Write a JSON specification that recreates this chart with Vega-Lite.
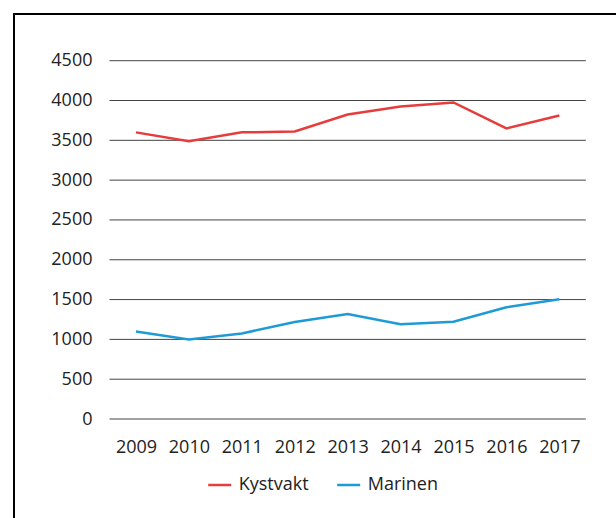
{
  "$schema": "https://vega.github.io/schema/vega-lite/v6.json",
  "width": 605,
  "height": 507,
  "autosize": {"type": "none"},
  "padding": {"left": 14, "top": 14, "right": 0, "bottom": 0},
  "background": "white",
  "config": {
    "view": {"stroke": "black", "strokeWidth": 2},
    "font": "Open Sans",
    "axis": {"labelFont": "Open Sans", "labelFontSize": 18, "labelColor": "#222222", "grid": false, "domain": false, "ticks": false, "title": null},
    "legend": {"labelFont": "Open Sans", "labelFontSize": 18, "labelColor": "#222222"}
  },
  "datasets": {
    "series": [
      {"Year": 2009, "Series": "Kystvakt", "Value": 3600},
      {"Year": 2010, "Series": "Kystvakt", "Value": 3490},
      {"Year": 2011, "Series": "Kystvakt", "Value": 3600},
      {"Year": 2012, "Series": "Kystvakt", "Value": 3610},
      {"Year": 2013, "Series": "Kystvakt", "Value": 3825},
      {"Year": 2014, "Series": "Kystvakt", "Value": 3925},
      {"Year": 2015, "Series": "Kystvakt", "Value": 3975},
      {"Year": 2016, "Series": "Kystvakt", "Value": 3650},
      {"Year": 2017, "Series": "Kystvakt", "Value": 3812},
      {"Year": 2009, "Series": "Marinen", "Value": 1100},
      {"Year": 2010, "Series": "Marinen", "Value": 1000},
      {"Year": 2011, "Series": "Marinen", "Value": 1075},
      {"Year": 2012, "Series": "Marinen", "Value": 1218},
      {"Year": 2013, "Series": "Marinen", "Value": 1319},
      {"Year": 2014, "Series": "Marinen", "Value": 1189},
      {"Year": 2015, "Series": "Marinen", "Value": 1222},
      {"Year": 2016, "Series": "Marinen", "Value": 1403},
      {"Year": 2017, "Series": "Marinen", "Value": 1504}
    ],
    "grid": [
      {"v": 0}, {"v": 500}, {"v": 1000}, {"v": 1500}, {"v": 2000},
      {"v": 2500}, {"v": 3000}, {"v": 3500}, {"v": 4000}, {"v": 4500}
    ]
  },
  "layer": [
    {
      "data": {"name": "grid"},
      "mark": {"type": "rule", "color": "#444444", "strokeWidth": 1},
      "encoding": {
        "y": {"field": "v", "type": "quantitative",
              "scale": {"domain": [0, 4500], "range": [405, 46.7], "nice": false, "zero": true},
              "axis": {"values": [0, 500, 1000, 1500, 2000, 2500, 3000, 3500, 4000, 4500], "format": "d", "offset": -96, "labelPadding": 18, "title": null}},
        "x": {"datum": 2008.5, "type": "quantitative",
              "scale": {"domain": [2008.5, 2017.5], "range": [95.5, 571.8], "nice": false, "zero": false},
              "axis": {"values": [2009, 2010, 2011, 2012, 2013, 2014, 2015, 2016, 2017], "format": "d", "offset": -102, "labelPadding": 19, "title": null}},
        "x2": {"datum": 2017.5}
      }
    },
    {
      "data": {"name": "series"},
      "mark": {"type": "line", "strokeWidth": 2.5},
      "encoding": {
        "x": {"field": "Year", "type": "quantitative", "title": null},
        "y": {"field": "Value", "type": "quantitative", "title": null},
        "color": {"field": "Series", "type": "nominal",
                  "scale": {"domain": ["Kystvakt", "Marinen"], "range": ["#e63c3c", "#1e9bd7"]},
                  "legend": {"orient": "none", "legendX": 192.7, "legendY": 458, "direction": "horizontal", "title": null,
                             "symbolType": "stroke", "symbolSize": 529, "symbolStrokeWidth": 2.5,
                             "labelOffset": 6, "columnPadding": 23, "padding": 0}}
      }
    }
  ]
}
